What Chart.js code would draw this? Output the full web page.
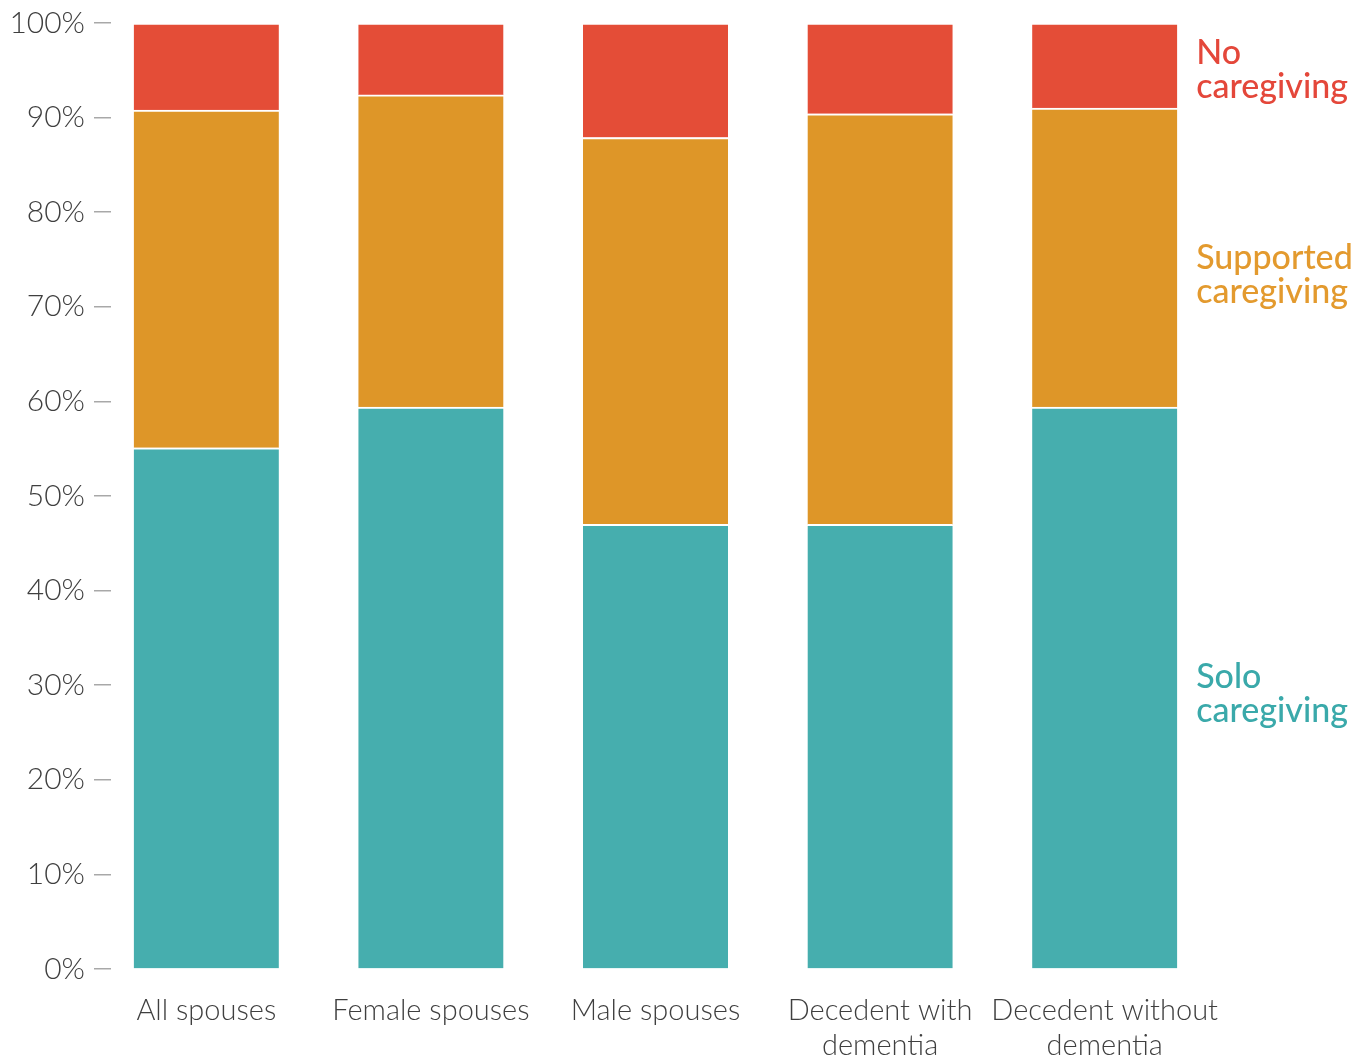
<!DOCTYPE html>
<html>
<head>
<meta charset="utf-8">
<script src="https://cdn.jsdelivr.net/npm/chart.js@4"></script>
<style>
  html, body { margin: 0; padding: 0; background: #fff; }
  #wrap { width: 1371px; height: 1061px; }
</style>
</head>
<body>
<div id="wrap"><canvas id="chart"></canvas></div>
<script>
const categories = [
  ['All spouses'],
  ['Female spouses'],
  ['Male spouses'],
  ['Decedent with', 'dementia'],
  ['Decedent without', 'dementia'],
];
const soloCaregiving = [55.1, 59.4, 47.0, 47.0, 59.4];
const supportedCaregiving = [35.7, 33.0, 40.9, 43.4, 31.6];
const noCaregiving = [9.2, 7.6, 12.1, 9.6, 9.0];
const yTicks = [0, 10, 20, 30, 40, 50, 60, 70, 80, 90, 100];

const RED = '#e44d37';
const ORANGE = '#de9628';
const TEAL = '#46aeae';

// series names drawn at the right of the last bar
const seriesLabels = [
  { lines: ['No', 'caregiving'], color: '#e4473a', at: 95.7 },
  { lines: ['Supported', 'caregiving'], color: '#e39a2e', at: 74.0 },
  { lines: ['Solo', 'caregiving'], color: '#3aa9aa', at: 29.7 },
];

const rightLabels = {
  id: 'rightLabels',
  afterDatasetsDraw(chart) {
    const ctx = chart.ctx;
    const bar = chart.getDatasetMeta(0).data[categories.length - 1];
    const x = bar.x + bar.width / 2 + 19;
    const y = chart.scales.y;
    ctx.save();
    ctx.font = '500 34px Lato';
    ctx.textAlign = 'left';
    ctx.textBaseline = 'alphabetic';
    seriesLabels.forEach(s => {
      ctx.fillStyle = s.color;
      s.lines.forEach((line, k) => {
        ctx.fillText(line, x, y.getPixelForValue(s.at) + k * 34);
      });
    });
    ctx.restore();
  }
};

const seg = { top: 2, left: 0, right: 0, bottom: 0 };

new Chart(document.getElementById('chart'), {
  type: 'bar',
  data: {
    labels: categories,
    datasets: [
      { label: 'Solo caregiving', data: soloCaregiving, backgroundColor: TEAL },
      { label: 'Supported caregiving', data: supportedCaregiving, backgroundColor: ORANGE },
      { label: 'No caregiving', data: noCaregiving, backgroundColor: RED },
    ].map(d => Object.assign(d, {
      borderColor: '#ffffff', borderWidth: seg, borderSkipped: false, barThickness: 145
    }))
  },
  options: {
    responsive: true,
    maintainAspectRatio: false,
    animation: false,
    layout: { padding: { top: 23, right: 154, left: 0, bottom: 0 } },
    plugins: { legend: { display: false }, tooltip: { enabled: false } },
    scales: {
      x: {
        stacked: true,
        grid: { display: false },
        border: { display: false },
        afterFit(scale) { scale.height = 92; },
        ticks: {
          autoSkip: false,
          maxRotation: 0,
          padding: 16,
          color: '#3f3f3f',
          font: { family: 'Lato', size: 29, weight: 300, lineHeight: 1.2 }
        }
      },
      y: {
        stacked: true,
        min: 0,
        max: 100,
        afterFit(scale) { scale.width = 94; },
        afterBuildTicks(scale) { scale.ticks = yTicks.map(v => ({ value: v })); },
        // short dash at the start of each grid line acts as the tick mark
        grid: { drawTicks: false, color: '#a8a8a8', lineWidth: 1.5 },
        border: { display: false, dash: [17, 3000] },
        ticks: {
          padding: 9,
          color: '#3f3f3f',
          font: { family: 'Lato', size: 30, weight: 300, lineHeight: 0.9 },
          callback: v => v + '%'
        }
      }
    }
  },
  plugins: [rightLabels]
});
</script>
</body>
</html>
